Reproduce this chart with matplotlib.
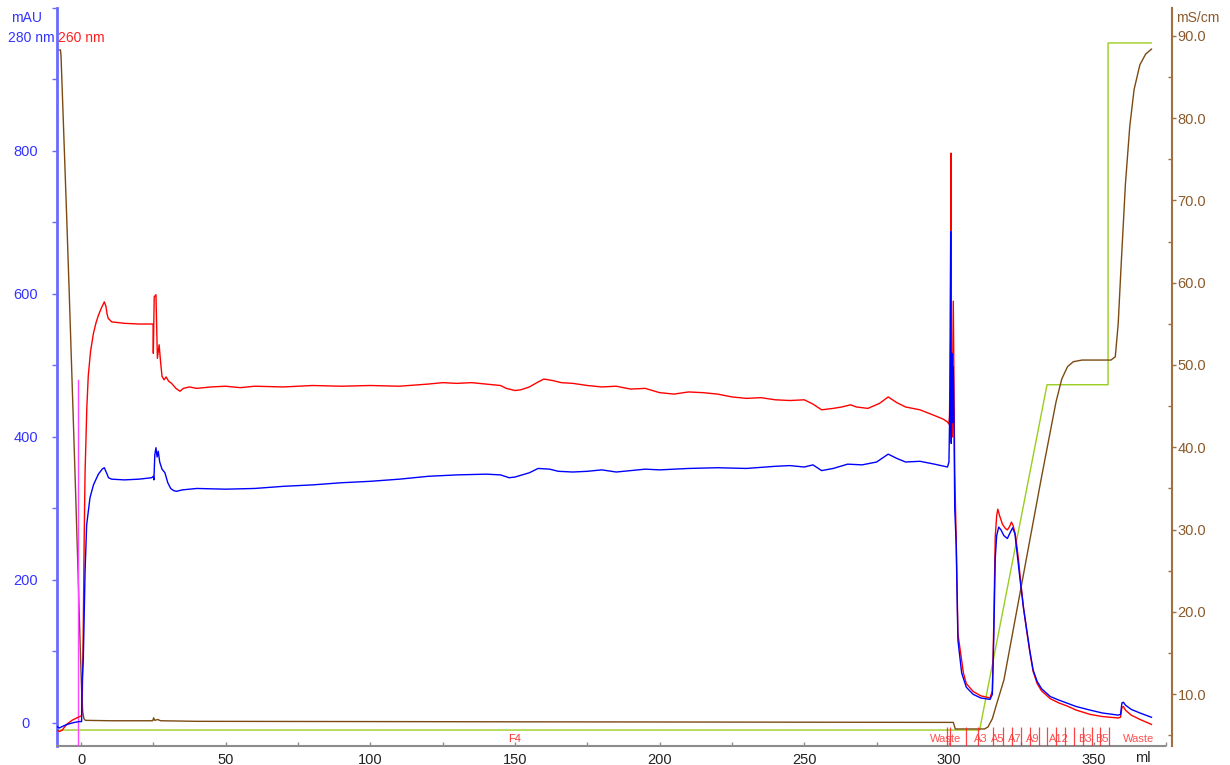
import matplotlib
matplotlib.use("Agg")
import matplotlib.pyplot as plt
from matplotlib.ticker import MultipleLocator, FixedLocator
import matplotlib.transforms as mtransforms

plt.rcParams['font.family'] = ['Liberation Sans', 'DejaVu Sans']

# ---------------- data ----------------
# UV 280 nm (mAU) : volume (ml), absorbance
uv280_ml = [-8.3, -7.5, -6.0, -4.0, -2.0, -0.5, 0.2, 0.4, 0.8, 1.4, 1.95, 3.1, 4.3, 6.0, 7.3, 8.05,
            8.8, 9.5, 10.6, 15, 20, 24.4, 25.0, 25.2, 25.5, 25.9, 26.3, 26.7, 27.2, 28, 29, 30, 31, 32,
            33, 35, 40, 50, 60, 70, 80, 90, 100, 110, 120, 125, 130, 140, 145, 148, 150, 155, 158,
            162, 165, 170, 175, 180, 185, 190, 195, 200, 210, 220, 230, 240, 245, 250, 253, 256, 260,
            265, 270, 275, 279, 282, 285, 290, 295, 299.5,
            300.0, 300.4, 300.6, 300.7, 300.8, 301.0, 301.2, 301.5, 301.8, 302.0, 302.5, 303.1, 304.4,
            306, 308.4, 311, 314.2, 315.0, 315.5, 316.0, 316.5, 317.2, 318, 319, 320.2, 321, 322,
            322.8, 323.5, 324.6, 325.8, 326.9, 328, 329.1, 330.5, 332, 335, 338, 340.7, 344, 348.8,
            353, 358.5, 359.3, 359.8, 360.3, 361, 363, 366, 370]
uv280_mau = [-5, -7, -4, -1, 1, 2, 2, 60, 90, 212, 277, 315, 333, 348, 355, 357,
             350, 343, 341, 340, 341, 343, 345, 340, 375, 385, 372, 380, 365, 355, 350, 336, 328, 325,
             324, 326, 328, 327, 328, 331, 333, 336, 338, 341, 345, 346, 347, 348, 347, 343, 344, 350, 356,
             355, 352, 351, 352, 354, 351, 353, 355, 354, 356, 357, 356, 359, 360, 358, 361, 353, 356,
             362, 361, 365, 376, 370, 365, 366, 362, 358,
             365, 470, 687, 450, 391, 517, 420, 498, 400, 300, 250, 116, 70,
             50, 40, 35, 33, 40, 120, 230, 262, 274, 270, 262, 258, 265, 273,
             265, 240, 200, 160, 130, 100, 74, 58, 48, 37, 32, 28, 23, 18,
             14, 11, 12, 28, 29, 25, 19, 14, 8]

# UV 260 nm (mAU)
uv260_ml = [-8.3, -7.5, -6.5, -5.0, -3.0, -1.0, 0.2, 0.5, 0.8, 1.1, 1.4, 2.0, 2.5, 3.3, 4.3, 5.2, 6.0,
            7.0, 8.05, 8.6, 9.0, 9.4, 10.6, 15, 20, 24.4, 24.9, 25.0, 25.3, 25.9, 26.4, 27.0, 27.5,
            28.0, 28.7, 29.4, 30.3, 31.3, 32.8, 34.2, 35.4, 37.4, 40, 45, 50, 55, 60, 70, 80, 90, 100,
            110, 120, 125, 130, 135, 140, 145, 147, 150, 152, 155, 158, 160, 163, 166, 170, 175, 180,
            185, 190, 195, 200, 205, 210, 215, 220, 225, 230, 235, 240, 245, 250, 253, 256, 260, 263,
            266, 268, 272, 276, 279, 282, 285, 290, 295, 298, 299.5,
            300.0, 300.2, 300.5, 300.7, 300.9, 301.2, 301.5, 301.8, 302.0, 302.5, 303.1, 305, 306,
            308.4, 311, 314.2, 315, 315.5, 316.0, 316.5, 316.9, 317.5, 318.5, 319.5, 320.2, 321, 321.6,
            322.2, 323, 324, 324.6, 325.8, 326.9, 328, 329.1, 330.5, 332, 335, 338, 340.7, 344, 348.8,
            353, 358.5, 359.3, 359.8, 360.3, 361, 363, 366, 370]
uv260_mau = [-10, -12, -10, -2, 4, 8, 10, 50, 140, 260, 350, 440, 485, 520, 545, 560, 570,
             580, 589, 583, 572, 566, 561, 559, 558, 558, 558, 517, 596, 599, 510, 529, 505,
             485, 480, 484, 478, 475, 468, 464, 468, 470, 468, 470, 471, 469, 471, 470, 472, 471, 472,
             471, 474, 476, 475, 476, 474, 472, 468, 465, 466, 470, 477, 481, 479, 476, 475, 472, 470,
             471, 467, 468, 462, 460, 463, 462, 460, 456, 454, 455, 452, 451, 452, 446, 438, 440, 442,
             445, 442, 440, 447, 456, 448, 442, 438, 430, 425, 421,
             418, 430, 540, 797, 450, 400, 590, 450, 350, 260, 125, 70, 55,
             44, 38, 35, 45, 140, 260, 290, 299, 290, 278, 272, 270, 275, 281,
             276, 262, 230, 205, 160, 128, 98, 72, 55, 45, 34, 28, 24, 18, 12,
             9, 7, 8, 22, 23, 18, 11, 5, -2]

# Conductivity (mS/cm)
cond_ml = [-8.3, -7.1, -6.9, -6.0, -5.0, -4.0, -3.0, -2.0, -1.0, -0.3, 0.2, 0.6, 1.0,
           1.5, 10, 24.8, 25.1, 25.5, 26.5, 27.5, 40, 100, 150, 200, 300, 301.5, 302.2, 312.3,
           313.5, 315, 316.5, 319, 331.8, 337, 339, 341, 343, 346, 350, 356, 357.5, 358.5, 359.5,
           361, 362.5, 364, 366, 368, 370]
cond_ms = [88.3, 88.3, 87.5, 78.5, 68.5, 58, 47, 36, 24.5, 16, 10.5, 7.8, 7.0,
           6.8, 6.75, 6.75, 7.1, 6.8, 6.9, 6.75, 6.68, 6.65, 6.62, 6.6, 6.55, 6.55, 5.75, 5.75,
           6.0, 7.0, 8.8, 11.7, 36, 45.5, 48.3, 49.8, 50.4, 50.6, 50.6, 50.6, 51, 55, 62,
           72, 79, 83.5, 86.5, 87.8, 88.4]

# Gradient programme, on the conductivity scale
grad_ml = [-8.3, 310.6, 333.9, 355.0, 355.0, 369.9]
grad_val = [5.62, 5.62, 47.6, 47.6, 89.15, 89.15]

# Injection mark
inject_ml = -0.9
inject_top = 480

# Fractions
frac_ml = [299.5, 300.2, 306.0, 310.2, 315.3, 318.6, 321.7, 324.9, 327.9, 331.0, 334.0,
           337.0, 340.1, 343.2, 346.2, 349.3, 352.2, 355.4]
frac_labels = ["Waste", "A3", "A5", "A7", "A9", "A12", "B3", "B5", "Waste"]
frac_label_ml = [299.0, 311.1, 317.0, 322.8, 329.1, 338.0, 347.0, 352.9, 365.4]
pool_label = "F4"
pool_label_ml = 150

# ---------------- figure ----------------
W, H = 1230, 765
fig = plt.figure(figsize=(W / 100, H / 100), dpi=100)
left_px, right_px, top_px, bot_px = 57, 1172, 8, 746
ax = fig.add_axes([left_px / W, 1 - bot_px / H, (right_px - left_px) / W, (bot_px - top_px) / H])
ax2 = ax.twinx()

BLUE = '#0000FF'
RED = '#FF0000'
BROWN = '#7B4A12'
GREEN = '#9ACD1E'
AX_BLUE = '#6A6AFF'
AX_BROWN = '#A07040'
LW = 1.0

ax.set_xlim(-8.3, 377.1)
ax.set_ylim(-32.2, 1000)
ax2.set_ylim(3.68, 93.4)

ax2.plot(grad_ml, grad_val, color=GREEN, lw=LW, zorder=2)
ax2.plot(cond_ml, cond_ms, color=BROWN, lw=LW, zorder=3)
ax.plot(uv260_ml, uv260_mau, color=RED, lw=LW, zorder=4)
ax.plot(uv280_ml, uv280_mau, color=BLUE, lw=LW, zorder=5)
ax.plot([inject_ml, inject_ml], [-32.2, inject_top], color='#FF44FF', lw=1.0, zorder=3)
ax.set_zorder(ax2.get_zorder() + 1)
ax.patch.set_visible(False)

# fraction marks and labels along the volume axis
trans = mtransforms.blended_transform_factory(ax.transData, ax.transAxes)
ax.vlines(frac_ml, 0, 0.026, transform=trans, color='#FF2020', lw=0.9, alpha=0.85, zorder=6)
for lbl, xv in zip(frac_labels, frac_label_ml):
    ax.text(xv, 0.003, lbl, transform=trans, color='#FF3030', fontsize=8,
            ha='center', va='bottom', alpha=0.85, zorder=7)
ax.text(pool_label_ml, 0.003, pool_label, transform=trans, color='#FF3030', fontsize=8,
        ha='center', va='bottom', zorder=7)

# spines
for s in ['top', 'right']:
    ax.spines[s].set_visible(False)
for s in ['top', 'left', 'bottom']:
    ax2.spines[s].set_visible(False)
ax.spines['left'].set_color(AX_BLUE)
ax.spines['left'].set_linewidth(2.0)
ax.spines['bottom'].set_color('#8C8C8C')
ax.spines['bottom'].set_linewidth(1.5)
ax.spines['bottom'].set_bounds(-8.3, 374.7)
ax2.spines['right'].set_color(AX_BROWN)
ax2.spines['right'].set_linewidth(1.5)

# x axis
ax.xaxis.set_major_locator(FixedLocator([0, 50, 100, 150, 200, 250, 300, 350]))
ax.xaxis.set_minor_locator(MultipleLocator(25))
ax.tick_params(axis='x', which='both', direction='in', color='#8C8C8C', length=3,
               width=1, labelsize=10.5, labelcolor='#222222', pad=5)
ax.text(367, -0.0165, 'ml', transform=trans, ha='center', va='center', fontsize=10.5,
        color='#222222')

# left axis
ax.set_yticks([0, 200, 400, 600, 800])
ax.yaxis.set_minor_locator(MultipleLocator(100))
ax.tick_params(axis='y', which='both', direction='out', color=AX_BLUE, length=3.5,
               width=1, labelsize=10.5, labelcolor='#3333FF', pad=19)
for t in ax.get_yticklabels():
    t.set_horizontalalignment('center')

# right axis
ax2.set_yticks([10, 20, 30, 40, 50, 60, 70, 80, 90])
ax2.set_yticklabels(['10.0', '20.0', '30.0', '40.0', '50.0', '60.0', '70.0', '80.0', '90.0'])
ax2.yaxis.set_minor_locator(MultipleLocator(5))
ax2.tick_params(axis='y', which='major', direction='out', color=AX_BROWN, length=3,
                width=1, labelsize=10.5, labelcolor='#8B5A2B', pad=1)
ax2.tick_params(axis='y', which='minor', direction='in', color=AX_BROWN, length=3, width=1)

# axis titles
fig.text(27 / W, 1 - 18 / H, 'mAU', color='#3333FF', fontsize=10, ha='center', va='center')
fig.text(8 / W, 1 - 38 / H, '280 nm', color='#3333FF', fontsize=10, ha='left', va='center')
fig.text(58 / W, 1 - 38 / H, '260 nm', color='#FF2020', fontsize=10, ha='left', va='center')
fig.text(1176 / W, 1 - 18 / H, 'mS/cm', color='#8B5A2B', fontsize=10, ha='left', va='center')

fig.savefig('out.png', dpi=100)
